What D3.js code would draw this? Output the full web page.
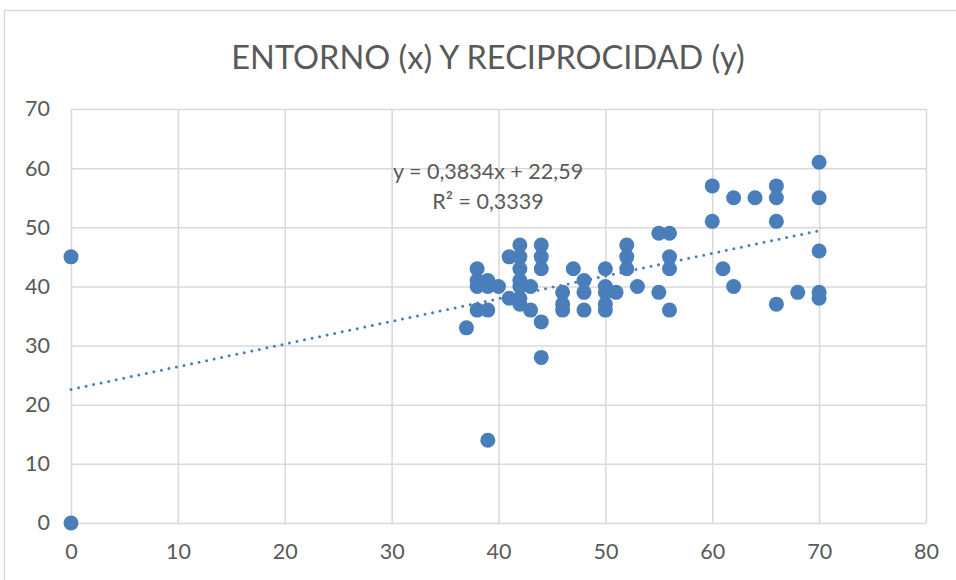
<!DOCTYPE html>
<html>
<head>
<meta charset="utf-8">
<script src="https://cdn.jsdelivr.net/npm/d3@7"></script>
<style>
  html, body { margin: 0; padding: 0; background: #fff; }
  svg { display: block; }
  text { font-family: Lato, "Open Sans", sans-serif; fill: #595959; }
</style>
</head>
<body>
<svg id="chart" width="956" height="580"></svg>
<script>
// Scatter: ENTORNO (x) vs RECIPROCIDAD (y)
const entorno = [
  0, 0,
  37,
  38, 38, 38, 38,
  39, 39, 39, 39,
  40,
  41, 41,
  42, 42, 42, 42, 42, 42, 42,
  43, 43,
  44, 44, 44, 44, 44,
  46, 46, 46,
  47,
  48, 48, 48,
  50, 50, 50, 50, 50,
  51,
  52, 52, 52,
  53,
  55, 55,
  56, 56, 56, 56,
  60, 60,
  61,
  62, 62,
  64,
  66, 66, 66, 66,
  68,
  70, 70, 70, 70, 70
];
const reciprocidad = [
  0, 45,
  33,
  43, 41, 40, 36,
  41, 40, 36, 14,
  40,
  45, 38,
  47, 45, 43, 41, 40, 38, 37,
  40, 36,
  47, 45, 43, 34, 28,
  39, 37, 36,
  43,
  41, 39, 36,
  43, 40, 39, 37, 36,
  39,
  47, 45, 43,
  40,
  49, 39,
  49, 45, 43, 36,
  57, 51,
  43,
  55, 40,
  55,
  57, 55, 51, 37,
  39,
  61, 55, 46, 39, 38
];

// Linear trend as reported on the chart
const trendSlope = 0.3834;
const trendIntercept = 22.59;
const trendLabel = ["y = 0,3834x + 22,59", "R\u00B2 = 0,3339"];

const xTicks = [0, 10, 20, 30, 40, 50, 60, 70, 80];
const yTicks = [0, 10, 20, 30, 40, 50, 60, 70];
const title = "ENTORNO (x) Y RECIPROCIDAD (y)";

const svg = d3.select("#chart");
const W = 956, H = 580;
const plot = { left: 71, right: 926, top: 109, bottom: 523 };
const blue = "#4a7ebb";
const grid = "#d9d9d9";

// chart frame
svg.append("rect")
  .attr("x", 4.5).attr("y", 10.5)
  .attr("width", W + 10).attr("height", H + 10)
  .attr("fill", "#fff").attr("stroke", grid).attr("stroke-width", 1.3);

const x = d3.scaleLinear().domain([0, 80]).range([plot.left, plot.right]);
const y = d3.scaleLinear().domain([0, 70]).range([plot.bottom, plot.top]);

// gridlines
const gx = svg.append("g").attr("transform", `translate(0,${plot.bottom})`)
  .call(d3.axisBottom(x).tickValues(xTicks).tickSize(-(plot.bottom - plot.top)).tickFormat(""));
const gy = svg.append("g").attr("transform", `translate(${plot.left},0)`)
  .call(d3.axisLeft(y).tickValues(yTicks).tickSize(-(plot.right - plot.left)).tickFormat(""));
[gx, gy].forEach(g => {
  g.select(".domain").remove();
  g.selectAll(".tick line").attr("stroke", grid).attr("stroke-width", 1.5);
});

// tick labels
const lx = svg.append("g").attr("transform", `translate(0,${plot.bottom})`)
  .call(d3.axisBottom(x).tickValues(xTicks).tickSize(0).tickPadding(21).tickFormat(d3.format("d")));
const ly = svg.append("g").attr("transform", `translate(${plot.left},0)`)
  .call(d3.axisLeft(y).tickValues(yTicks).tickSize(0).tickPadding(21).tickFormat(d3.format("d")));
[lx, ly].forEach(g => {
  g.select(".domain").remove();
  g.selectAll("text").attr("font-size", 21.5).attr("fill", "#595959")
    .attr("font-family", "Lato, 'Open Sans', sans-serif");
});

// trendline (dotted)
const trend = [0, 70].map(v => [v, trendSlope * v + trendIntercept]);
svg.append("path")
  .attr("d", d3.line().x(d => x(d[0])).y(d => y(d[1]))(trend))
  .attr("fill", "none").attr("stroke", blue)
  .attr("stroke-width", 3).attr("stroke-linecap", "round")
  .attr("stroke-dasharray", "0 7.7");

// points
const pts = entorno.map((v, i) => [v, reciprocidad[i]]);
svg.append("g").selectAll("circle").data(pts).join("circle")
  .attr("cx", d => x(d[0])).attr("cy", d => y(d[1]))
  .attr("r", 7.5).attr("fill", blue);

// trend label
svg.append("g").selectAll("text").data(trendLabel).join("text")
  .attr("x", 488).attr("y", (d, i) => 179 + i * 30)
  .attr("text-anchor", "middle").attr("font-size", 21.5)
  .text(d => d);

// title
svg.append("text")
  .attr("x", 488).attr("y", 69)
  .attr("text-anchor", "middle").attr("font-size", 32.5)
  .text(title);
</script>
</body>
</html>
